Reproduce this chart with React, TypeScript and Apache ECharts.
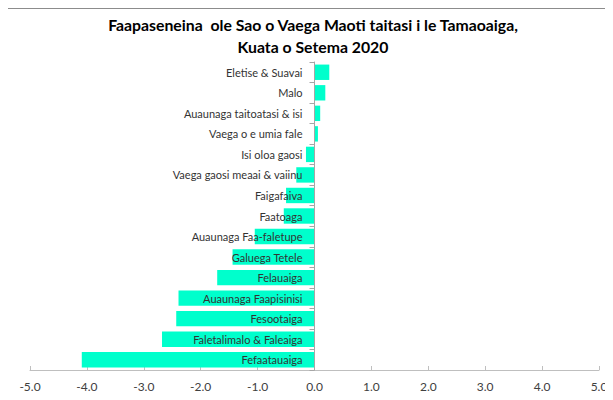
import React, { useEffect, useRef } from "react";
import * as echarts from "echarts";

const titleLines = [
  "Faapaseneina  ole Sao o Vaega Maoti taitasi i le Tamaoaiga,",
  "Kuata o Setema 2020",
];

const categories = [
  "Eletise & Suavai",
  "Malo",
  "Auaunaga taitoatasi & isi",
  "Vaega o e umia fale",
  "Isi oloa gaosi",
  "Vaega gaosi meaai & vaiinu",
  "Faigafaiva",
  "Faatoaga",
  "Auaunaga Faa-faletupe",
  "Galuega Tetele",
  "Felauaiga",
  "Auaunaga Faapisinisi",
  "Fesootaiga",
  "Faletalimalo & Faleaiga",
  "Fefaatauaiga",
];

const values = [
  0.26, 0.19, 0.1, 0.06, -0.15, -0.32, -0.5, -0.54, -1.05, -1.44, -1.71, -2.39,
  -2.43, -2.68, -4.09,
];

const xMin = -5;
const xMax = 5;
const xInterval = 1;

const W = 613;
const H = 400;
const GRID_LEFT = 30;
const GRID_RIGHT = 14;

export default function App() {
  const ref = useRef<HTMLDivElement>(null);
  useEffect(() => {
    if (!ref.current) return;
    const chart = echarts.init(ref.current, undefined, { renderer: "svg" });
    const font = "Lato";
    const plotW = W - GRID_LEFT - GRID_RIGHT;
    const zeroOffset = -((0 - xMin) / (xMax - xMin)) * plotW;
    chart.setOption({
      animation: false,
      textStyle: { fontFamily: font },
      title: {
        text: titleLines.join("\n"),
        left: 308,
        textAlign: "center",
        top: 8,
        textStyle: {
          fontFamily: font,
          fontSize: 15.8,
          fontWeight: "bold",
          color: "#000000",
          lineHeight: 22,
        },
      },
      grid: {
        left: GRID_LEFT,
        right: GRID_RIGHT,
        top: 62,
        bottom: 30,
        containLabel: false,
        outerBoundsMode: "none",
      },
      xAxis: {
        type: "value",
        min: xMin,
        max: xMax,
        interval: xInterval,
        axisLine: { show: true, lineStyle: { color: "#bfbfbf", width: 1 } },
        axisTick: { show: true, inside: true, length: 4, lineStyle: { color: "#bfbfbf" } },
        splitLine: { show: false },
        axisLabel: {
          color: "#404040",
          fontSize: 12,
          fontFamily: font,
          margin: 10,
          formatter: (v: number) => v.toFixed(1),
        },
      },
      yAxis: {
        type: "category",
        data: categories,
        inverse: true,
        position: "left",
        offset: zeroOffset,
        z: 5,
        axisLine: { show: true, onZero: false, lineStyle: { color: "#a6a6a6", width: 1 } },
        axisTick: { show: true, length: 5, lineStyle: { color: "#a6a6a6" } },
        axisLabel: {
          color: "#333333",
          fontSize: 11,
          fontFamily: font,
          margin: 12,
        },
      },
      series: [
        {
          type: "bar",
          data: values,
          barCategoryGap: "25%",
          itemStyle: { color: "#00FFCC" },
        },
      ],
    });
    return () => chart.dispose();
  }, []);
  return (
    <div style={{ position: "relative", width: W, height: H, margin: -8, background: "#fff", overflow: "hidden" }}>
      <div ref={ref} style={{ position: "absolute", left: 0, top: 0, width: W, height: H }} />
      <div
        style={{
          position: "absolute",
          left: 3,
          top: 7,
          width: W,
          height: H,
          borderLeft: "2px solid #8c8c8c",
          borderTop: "2px solid #8c8c8c",
          boxSizing: "border-box",
          pointerEvents: "none",
        }}
      />
    </div>
  );
}
